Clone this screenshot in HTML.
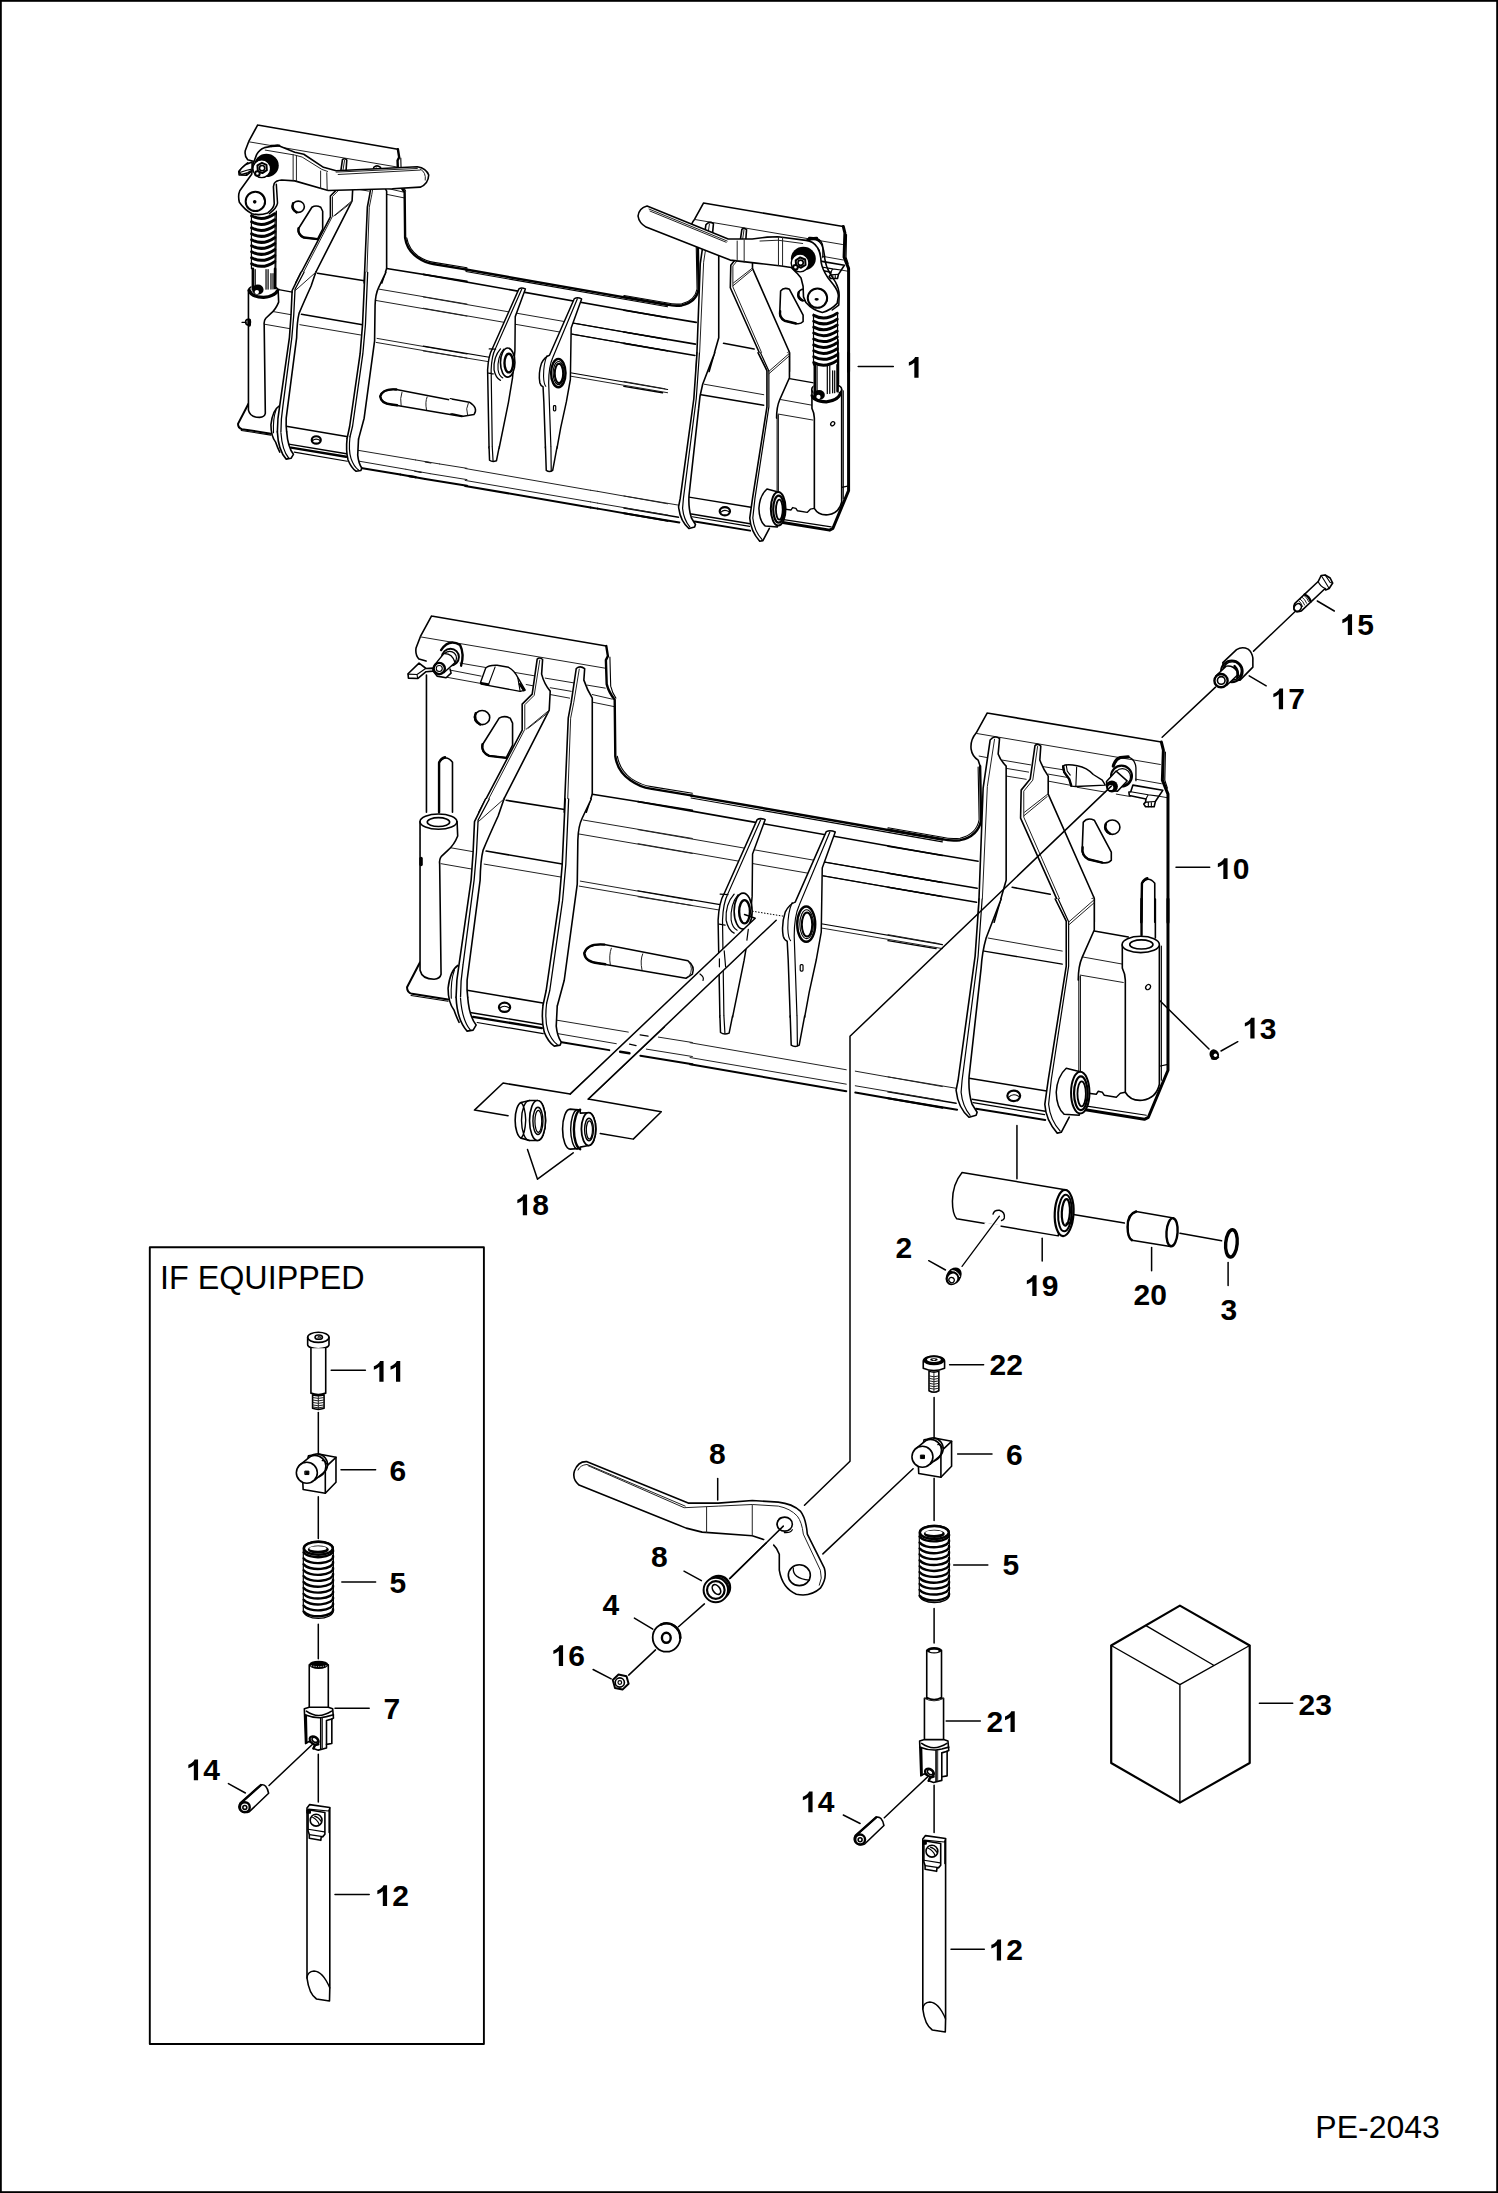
<!DOCTYPE html>
<html><head><meta charset="utf-8">
<style>
html,body{margin:0;padding:0;background:#fff;}
svg{display:block;}
.k,.t,.w,.b,.h{vector-effect:non-scaling-stroke;stroke:#000;stroke-linejoin:round;stroke-linecap:round;}
.k{fill:none;stroke-width:1.6;}
.h{fill:none;stroke-width:2.4;}
.t{fill:none;stroke-width:1;stroke:#222;}
.w{fill:#fff;stroke-width:1.6;}
.b{fill:#000;stroke-width:1;}
.f{fill:#fff;stroke:none;}
text{font-family:"Liberation Sans",sans-serif;fill:#000;}
.n{font-weight:bold;font-size:30px;}
</style></head><body>
<svg width="1498" height="2193" viewBox="0 0 1498 2193">
<rect x="0" y="0" width="1498" height="2193" fill="#fff"/>
<rect x="0.9" y="0.9" width="1496.2" height="2191.2" fill="none" stroke="#000" stroke-width="1.8"/>
<!--LABELS-->
<defs><path id="g1" d="M11.81,0H7.69V-15.51Q5.44,-13.4 2.37,-12.39V-16.13Q3.98,-16.66 5.87,-18.13Q7.76,-19.6 8.47,-21.56H11.81Z"/></defs>
<g id="labels" class="n">
<use href="#g1" transform="translate(906.40,377.7) scale(1.03,0.965)"/>
<use href="#g1" transform="translate(1339.90,635.1) scale(1.03,0.965)"/>
<text x="1357.18" y="635.1">5</text>
<use href="#g1" transform="translate(1270.90,709.2) scale(1.03,0.965)"/>
<text x="1288.18" y="709.2">7</text>
<use href="#g1" transform="translate(1215.40,879.1) scale(1.03,0.965)"/>
<text x="1232.68" y="879.1">0</text>
<use href="#g1" transform="translate(1242.40,1038.5) scale(1.03,0.965)"/>
<text x="1259.68" y="1038.5">3</text>
<use href="#g1" transform="translate(514.90,1215.2) scale(1.03,0.965)"/>
<text x="532.18" y="1215.2">8</text>
<text x="895.50" y="1257.9">2</text>
<use href="#g1" transform="translate(1024.40,1296.1) scale(1.03,0.965)"/>
<text x="1041.68" y="1296.1">9</text>
<text x="1133.50" y="1305.0">2</text>
<text x="1150.18" y="1305.0">0</text>
<text x="1220.50" y="1319.6">3</text>
<use href="#g1" transform="translate(371.40,1381.7) scale(1.03,0.965)"/>
<use href="#g1" transform="translate(388.08,1381.7) scale(1.03,0.965)"/>
<text x="389.50" y="1481.1">6</text>
<text x="389.50" y="1592.8">5</text>
<text x="383.50" y="1719.4">7</text>
<use href="#g1" transform="translate(185.90,1780.3) scale(1.03,0.965)"/>
<text x="203.18" y="1780.3">4</text>
<use href="#g1" transform="translate(374.90,1906.1) scale(1.03,0.965)"/>
<text x="392.18" y="1906.1">2</text>
<text x="989.50" y="1375.1">2</text>
<text x="1006.18" y="1375.1">2</text>
<text x="1006.00" y="1464.7">6</text>
<text x="1002.50" y="1574.7">5</text>
<text x="709.00" y="1463.6">8</text>
<text x="651.00" y="1566.7">8</text>
<text x="602.50" y="1615.3">4</text>
<use href="#g1" transform="translate(550.90,1666.0) scale(1.03,0.965)"/>
<text x="568.18" y="1666.0">6</text>
<text x="986.50" y="1732.1">2</text>
<use href="#g1" transform="translate(1002.58,1732.1) scale(1.03,0.965)"/>
<use href="#g1" transform="translate(800.40,1812.3) scale(1.03,0.965)"/>
<text x="817.68" y="1812.3">4</text>
<use href="#g1" transform="translate(988.90,1960.4) scale(1.03,0.965)"/>
<text x="1006.18" y="1960.4">2</text>
<text x="1298.50" y="1714.9">2</text>
<text x="1315.18" y="1714.9">3</text>
</g>
<text x="160" y="1289.1" font-size="32.3">IF EQUIPPED</text>
<rect class="k" x="149.8" y="1247.3" width="334.1" height="796.7" style="stroke-width:1.9"/>
<g id="leaders" class="k" style="stroke-width:1.5">
<path d="M858.2,366.5H893.3"/>
<path d="M1317.3,601 L1334.3,611"/>
<path d="M1249.2,675.8 L1266.2,685.8"/>
<path d="M1176,867.3H1209.7"/>
<path d="M1221,1051 L1237.8,1041.7"/>
<path d="M527.5,1149.5 L537.5,1179.2 L573.2,1152.8"/>
<path d="M928.7,1260.7 L945.5,1270"/>
<path d="M1042.2,1238.3V1261"/>
<path d="M1151.6,1247.6V1270.8"/>
<path d="M1228.1,1262.4V1285.4"/>
<path d="M331.2,1370.3H365.4"/>
<path d="M341,1469.7H375.6"/>
<path d="M341.8,1582.1H375.6"/>
<path d="M335,1708.3H369.2"/>
<path d="M228.4,1783.6 L245.4,1793"/>
<path d="M335,1894.5H369.2"/>
<path d="M949.6,1364.7H983.6"/>
<path d="M957.6,1453.9H992"/>
<path d="M953.7,1565H987.8"/>
<path d="M717.7,1478.6V1500"/>
<path d="M684,1571.2 L701.4,1580.6"/>
<path d="M634.4,1618.1 L652.8,1629.2"/>
<path d="M593.1,1669.5 L611.2,1678.8"/>
<path d="M946.2,1720.9H980.3"/>
<path d="M843.3,1815 L860.1,1823.5"/>
<path d="M951,1949.2H984.3"/>
<path d="M1259.4,1703.3H1292.7"/>
</g>

<text x="1315.3" y="2138" font-size="32">PE-2043</text>
<!--IFEQ1-->
<defs>
<g id="blk6">
<!-- block 6 in zoom coords of region [258,1325] scale 12.183 -->
<path class="w" d="M615,1592 L740,1572 L950,1612 L950,1915 L820,2050 L550,2005 L545,1900 Z"/>
<path class="k" d="M950,1612 L820,1735 L820,2050"/>
<path class="w" d="M500,1712 L640,1600 A128,128 0 0 1 800,1800 L690,1890 Z"/>
<path class="k" d="M640,1600 A128,128 0 0 1 745,1850"/>
<path class="k" d="M785,1650 Q815,1640 832,1690"/>
<circle class="w" cx="595" cy="1800" r="128"/>
<rect class="b" x="575" y="1780" width="45" height="42"/>
</g>
</defs>
<g transform="translate(258,1325) scale(0.08208)">
<!-- part 11 shoulder bolt -->
<path class="w" d="M605,150 A130,62 0 0 1 865,150 L865,240 A130,50 0 0 1 605,240 Z"/>
<path class="k" d="M605,150 A130,62 0 0 0 865,150"/>
<ellipse class="k" cx="740" cy="148" rx="45" ry="26"/>
<ellipse class="t" cx="745" cy="148" rx="18" ry="10"/>
<path class="w" d="M645,283 L645,830 Q735,862 825,830 L825,283"/>
<path class="w" d="M665,850 L665,1015 Q735,1040 805,1015 L805,850 Q735,870 665,850"/>
<path class="t" d="M670,885 Q735,905 800,885 M670,915 Q735,935 800,915 M670,945 Q735,965 800,945 M670,975 Q735,995 800,975 M670,1000 Q735,1020 800,1000 M735,870 V1020"/>
<path class="k" d="M735,1065 V1575" style="stroke-width:1.5"/>
<use href="#blk6"/>
</g>

<!--COLS-->
<defs>
<g id="spring" transform="translate(258,1520) scale(0.08208)">
<path d="M552,345 A183,88 0 0 1 918,345 L918,1110 A183,88 0 0 1 552,1110 Z" fill="#fff" stroke="#000" stroke-width="1.2" vector-effect="non-scaling-stroke"/>
<ellipse class="h" cx="735" cy="345" rx="176" ry="80"/>
<ellipse cx="735" cy="362" rx="128" ry="50" fill="#000"/>
<ellipse cx="730" cy="347" rx="105" ry="28" fill="#fff"/>
<path class="h" d="M556,395 A183,80 0 0 0 914,365"/><path class="h" d="M556,467 A183,80 0 0 0 914,437"/><path class="h" d="M556,539 A183,80 0 0 0 914,509"/><path class="h" d="M556,611 A183,80 0 0 0 914,581"/><path class="h" d="M556,683 A183,80 0 0 0 914,653"/><path class="h" d="M556,755 A183,80 0 0 0 914,725"/><path class="h" d="M556,827 A183,80 0 0 0 914,797"/><path class="h" d="M556,899 A183,80 0 0 0 914,869"/><path class="h" d="M556,971 A183,80 0 0 0 914,941"/><path class="h" d="M556,1043 A183,80 0 0 0 914,1013"/><path class="h" d="M556,1115 A183,80 0 0 0 914,1085"/>
</g>
<g id="blk7" transform="translate(228,1650) scale(0.08208)">
<path class="w" d="M930,715 L990,698 L1222,698 L1275,715 L1285,830 L1265,840 L1265,1140 L1200,1150 L1200,1195 L1100,1220 L1040,1200 L1055,1150 L985,1115 L945,1140 Z"/>
<path class="k" d="M935,790 Q1040,830 1130,825 L1200,812 L1285,790 M1130,825 V1205 M1200,860 V1150 M1200,860 L1265,840"/>
<path class="h" d="M948,800 L955,1125"/>
<path class="t" d="M1150,830 V1200"/>
<path class="k" d="M955,745 Q1100,850 1262,745"/>
<ellipse class="w" cx="1050" cy="1100" rx="60" ry="42" transform="rotate(35 1050 1100)" style="stroke-width:2.2"/>
<ellipse class="k" cx="1058" cy="1095" rx="38" ry="26" transform="rotate(35 1058 1095)"/>
<path class="h" d="M1040,1200 L1062,1160 L1100,1150"/>
<!-- line to pin and pin 14 -->
<path class="k" d="M500,1650 L1040,1140" style="stroke-width:1.5"/>
<path class="w" d="M155,1865 L400,1645 Q470,1625 495,1745 L260,1970 Q180,2000 140,1940 Q120,1890 155,1865 Z"/>
<path class="h" d="M150,1868 L400,1645"/>
<circle class="h" cx="205" cy="1915" r="60"/>
<circle class="k" cx="205" cy="1918" r="24"/>
</g>
<g id="rod12">
<path class="w" d="M307,1808 L309.7,1804.6 L329.8,1807.5 L329.8,1988 L329.5,2001 L316.5,1999 Q309,1994 307,1978 Z"/>
<path class="k" d="M307,1978 Q307.5,1971.5 314,1971 Q323,1971.5 329.8,1988" style="stroke-width:1.3"/>
<g transform="translate(258,1780) scale(0.08208)">
<path class="k" d="M615,355 L860,378 L875,340 M865,378 V640" style="stroke-width:1.2"/>
<path class="w" d="M610,362 L815,395 L815,660 L790,690 L770,695 L765,735 L625,710 L625,665 L610,620 Z"/>
<path class="k" d="M625,665 L790,690 M612,600 L810,632" style="stroke-width:1.1"/>
<circle class="k" cx="708" cy="490" r="72"/>
<path class="k" d="M690,440 Q740,455 770,505 M665,455 Q720,480 745,540" style="stroke-width:1.1"/>
<rect class="b" x="600" y="365" width="40" height="40"/>
</g>
</g>
</defs>
<g class="k" style="stroke-width:1.5">
<path d="M318.3,1496.7V1538.5 M318.3,1624.2V1658.7 M318.3,1754.2V1802"/>
<path d="M934.1,1397.4V1437.6 M934.1,1478.2V1520.6 M934.1,1608.4V1643 M934.1,1785.3V1832.6"/>
</g>
<use href="#spring"/>
<g transform="translate(228,1650) scale(0.08208)">
<path class="w" d="M990,180 L990,740 Q1105,800 1222,740 L1222,180 Z"/>
<ellipse cx="1105" cy="180" rx="117" ry="50" fill="#000"/>
<path d="M1010,190 Q1105,215 1200,190" fill="none" stroke="#fff" stroke-width="0.8" vector-effect="non-scaling-stroke" stroke-dasharray="1.2 1.2"/>
</g>
<use href="#blk7"/>
<use href="#rod12"/>
<use href="#spring" transform="translate(616,-15.8)"/>
<g transform="translate(873.6,1309) scale(0.08208)"><use href="#blk6"/></g>
<g transform="translate(874,1335) scale(0.08208)">
<path class="w" d="M600,320 A130,65 0 0 1 860,320 L860,405 Q730,460 600,405 Z"/>
<ellipse cx="730" cy="310" rx="128" ry="60" fill="#000"/>
<ellipse cx="730" cy="300" rx="85" ry="30" fill="#fff"/>
<ellipse cx="730" cy="300" rx="45" ry="18" fill="#000"/>
<ellipse cx="730" cy="300" rx="20" ry="8" fill="#fff"/>
<path class="w" d="M670,440 L670,680 Q730,715 790,680 L790,440 Q730,465 670,440"/>
<path class="t" d="M675,500 Q730,520 785,500 M675,530 Q730,550 785,530 M675,560 Q730,580 785,560 M675,590 Q730,610 785,590 M675,620 Q730,640 785,620 M675,650 Q730,670 785,650 M730,470 V700"/>
</g>
<g transform="translate(844,1640) scale(0.08208)">
<path class="w" d="M980,710 L980,1250 Q1098,1310 1213,1250 L1213,710 Z"/>
<path class="w" d="M1008,125 L1008,700 Q1098,752 1188,700 L1188,125 Z"/>
<path class="t" d="M980,712 Q1098,772 1213,712"/>
<ellipse cx="1098" cy="125" rx="93" ry="40" fill="#000"/>
<ellipse cx="1098" cy="135" rx="55" ry="15" fill="#fff"/>
</g>
<use href="#blk7" transform="translate(615.3,32.3)"/>
<use href="#rod12" transform="translate(615.8,31)"/>
<!--LEVER8-->
<g class="k" style="stroke-width:1.5">
<path d="M913.1,1468.8 L822.9,1553.9"/>
<path d="M783.3,1526.1 L729.6,1578.6 M704.4,1603.9 L678.5,1626.7 M655.5,1649.9 L628.7,1675.1"/>
</g>
<g transform="translate(560,1430) scale(0.20027)">
<path class="w" d="M135,158 L640,365 L790,365 L960,352 L1090,360 Q1160,368 1200,405 Q1228,440 1235,520 L1320,690 Q1335,740 1300,790 Q1250,835 1180,820 Q1110,790 1095,700 L1095,620 Q1085,590 1065,572 L1020,548 L960,528 L710,510 L630,490 L95,275 Q60,245 72,205 Q90,155 135,158 Z"/>
<path class="t" d="M140,178 L620,388 L790,380 L960,372 L1090,380 Q1150,392 1185,430 Q1208,460 1215,520 L1300,700 Q1312,740 1295,775"/>
<path class="t" d="M90,200 Q100,175 135,172 L625,380"/>
<path class="t" d="M732,385 V512 M960,375 V528"/>
<path d="M1020,548 L1065,572" stroke="#fff" stroke-width="3" vector-effect="non-scaling-stroke"/>
<ellipse class="w" cx="1122" cy="470" rx="38" ry="35"/>
<path class="k" d="M1100,438 Q1075,460 1090,492 M1120,512 Q1150,515 1160,498" style="stroke-width:1.2"/>
<ellipse class="w" cx="1195" cy="725" rx="55" ry="52"/>
<path class="k" d="M1165,690 Q1160,740 1245,750" style="stroke-width:1.2"/>
<path class="k" d="M1115,480 L850,740" style="stroke-width:1.5"/>
</g>
<!-- bushing 8 -->
<circle class="w" cx="718.5" cy="1587.5" r="11.5" style="stroke-width:2.4"/>
<circle class="w" cx="717.2" cy="1588.8" r="11.5" style="stroke-width:1.2"/>
<circle class="w" cx="715.8" cy="1590" r="12.2" style="stroke-width:2"/>
<circle class="k" cx="715.8" cy="1590" r="8.8" style="stroke-width:2.2"/>
<ellipse class="k" cx="716.5" cy="1589.5" rx="3.5" ry="5.5" transform="rotate(-35 716.5 1589.5)" style="stroke-width:1.6"/>
<!-- washer 4 -->
<ellipse class="w" cx="666.5" cy="1637.5" rx="13.8" ry="14.2" style="stroke-width:1.8"/>
<path class="k" d="M661,1624.6 A13.8,14.2 0 0 1 680.3,1638" style="stroke-width:2.6"/>
<ellipse class="k" cx="666.3" cy="1637.8" rx="4.4" ry="5" style="stroke-width:2.4"/>
<!-- nut 16 -->
<path class="w" d="M612.8,1680 L618.5,1674.5 L626.5,1676.2 L628.6,1683.8 L622.5,1689.6 L615,1688 Z" style="stroke-width:2"/>
<circle class="k" cx="619.8" cy="1682.5" r="4.6" style="stroke-width:1.6"/>
<circle class="k" cx="619.8" cy="1682.5" r="1.8" style="stroke-width:1.2"/>
<!-- box 23 -->
<path class="w" d="M1179.9,1605.6 L1249.7,1645.5 L1249.7,1763 L1179.9,1802.6 L1111.2,1763 L1111.2,1645.5 Z" style="stroke-width:2.2"/>
<path class="k" d="M1111.2,1645.5 L1179.9,1684.6 L1249.7,1645.5 M1179.9,1684.6 V1802.6 M1146.4,1625.9 L1214.1,1665.5" style="stroke-width:1.4"/>

<!--P19-->
<g transform="translate(930,1150) scale(0.21362)">
<path class="k" d="M407,-115 V135 M650,298 L910,342 M1170,390 L1365,425" style="stroke-width:1.5"/>
<path class="w" d="M150,105 L640,187 L600,402 L125,322 Q105,300 105,240 Q105,160 150,105 Z" style="stroke-width:1.5"/>
<ellipse class="w" cx="628" cy="295" rx="44" ry="108" style="stroke-width:2.2" transform="rotate(3 628 295)"/>
<ellipse class="k" cx="632" cy="295" rx="32" ry="86" style="stroke-width:2" transform="rotate(3 632 295)"/>
<ellipse class="k" cx="636" cy="292" rx="19" ry="62" style="stroke-width:2.2" transform="rotate(3 636 292)"/>
<path class="h" d="M640,345 L662,340 L664,315"/>
<path d="M255,346 L330,358" stroke="#fff" stroke-width="3" vector-effect="non-scaling-stroke"/>
<path class="k" d="M295,300 Q300,280 325,282 Q352,290 348,318 Q345,328 335,330" style="stroke-width:1.4"/>
<path class="k" d="M325,310 L150,545" style="stroke-width:1.3"/>
<!-- part 20 -->
<path class="w" d="M965,288 L1140,318 L1125,452 L945,422 Q925,410 925,360 Q925,300 965,288 Z" style="stroke-width:1.5"/>
<path class="h" d="M965,288 Q925,300 925,360 Q925,410 945,422"/>
<ellipse class="w" cx="1133" cy="385" rx="26" ry="66" style="stroke-width:2.4" transform="rotate(4 1133 385)"/>
<!-- part 3 -->
<ellipse class="w" cx="1411" cy="437" rx="27" ry="64" style="stroke-width:3.4" transform="rotate(5 1411 437)"/>
</g>
<!-- part 2 grease fitting -->
<g transform="translate(953.6,1276.3) rotate(35)">
<ellipse cx="0" cy="0" rx="7.2" ry="9.6" fill="#000"/>
<ellipse cx="0.5" cy="2.5" rx="4.6" ry="5.2" fill="#fff"/>
<ellipse cx="0.5" cy="4.2" rx="2.8" ry="2.6" fill="none" stroke="#000" stroke-width="1.3"/>
<path d="M-5,-3.5 Q0,-7 5.5,-3" fill="none" stroke="#fff" stroke-width="0.9"/>
</g>

<!--P15-->
<g transform="translate(1200,565) scale(0.10013)">
<path class="k" d="M945,470 L535,860 M155,1220 L-378,1720" style="stroke-width:1.5"/>
<!-- bolt 15 -->
<path class="w" d="M945,385 L1180,165 L1210,105 L1250,100 L1300,130 L1325,180 L1290,235 L1255,250 L1250,235 L1010,460 Q960,480 940,440 Q930,410 945,385 Z"/>
<ellipse class="k" cx="975" cy="425" rx="34" ry="42" transform="rotate(40 975 425)"/>
<path class="k" d="M1180,165 Q1200,215 1250,235 M1210,105 Q1240,150 1290,235 M1250,100 L1300,175 L1325,180" style="stroke-width:1.1"/>
<path class="h" d="M1045,295 Q1090,310 1105,365"/>
<path class="t" d="M1000,340 Q1030,360 1045,400 M1020,322 Q1050,342 1065,382 M1040,305 Q1070,325 1085,365 M985,355 Q1010,375 1025,415"/>
<!-- bushing 17 -->
<path class="w" d="M228,975 L365,845 Q420,810 480,840 Q520,870 528,930 L528,1020 L400,1150 L250,1150 Z"/>
<circle class="w" cx="318" cy="1062" r="108" style="stroke-width:2"/>
<circle class="k" cx="322" cy="1058" r="92" style="stroke-width:1.6"/>
<path class="w" d="M158,1108 L262,1010 Q330,1000 368,1060 L372,1100 L268,1202 Z" style="stroke-width:1.4"/>
<path class="h" d="M345,1010 Q395,1060 372,1125"/>
<circle class="w" cx="210" cy="1155" r="66" style="stroke-width:2.4"/>
<circle class="k" cx="212" cy="1153" r="38" style="stroke-width:1.6"/>
</g>

<!--P18-->
<g transform="translate(440,1040) scale(0.20027)">
<path class="k" d="M340,378 L172,350 L315,215 L650,270 L1010,-65 M1120,-65 L740,295 L1105,358 L965,495 L800,467" style="stroke-width:1.5"/>
<!-- left bushing -->
<path class="w" d="M405,312 L447,302 L487,302 A40,100 0 0 1 487,502 L447,502 L405,490 A35,90 0 0 1 405,312 Z"/>
<path class="k" d="M447,302 A40,100 0 0 0 447,502 M405,312 Q425,330 428,400 Q425,470 405,490" style="stroke-width:1.4"/>
<ellipse class="w" cx="487" cy="402" rx="40" ry="100"/>
<ellipse class="k" cx="489" cy="404" rx="25" ry="68" style="stroke-width:1.4"/>
<ellipse class="k" cx="491" cy="406" rx="17" ry="55" style="stroke-width:1.2"/>
<!-- right bushing -->
<path class="w" d="M650,345 L700,350 L700,365 L742,363 A36,82 0 0 1 742,527 L700,535 L700,542 L650,545 A38,100 0 0 1 650,345 Z"/>
<path class="h" d="M700,348 A38,100 0 0 0 700,545"/>
<path class="k" d="M685,347 A38,100 0 0 0 685,545" style="stroke-width:1.4"/>
<ellipse class="w" cx="742" cy="445" rx="36" ry="82" style="stroke-width:1.8"/>
<ellipse class="k" cx="744" cy="447" rx="22" ry="56" style="stroke-width:1.4"/>
<ellipse class="k" cx="746" cy="449" rx="15" ry="45" style="stroke-width:1.1"/>
</g>
<!-- 13 -->
<path class="k" d="M1148.5,989.5 L1209,1049" style="stroke-width:1.5"/>
<ellipse cx="1214.3" cy="1054.6" rx="4.6" ry="5.4" fill="#000" transform="rotate(-30 1214.3 1054.6)"/>
<circle cx="1215.4" cy="1055.3" r="1.7" fill="#fff"/>
<path d="M1211,1058.5 Q1215,1061 1219,1057" stroke="#000" stroke-width="1.2" fill="none"/>

<!--A10-->
<g id="a10">
<!--T1-->
<g transform="translate(390,590) scale(0.20027)">
<!-- flange -->
<path class="k" d="M207,130 L1080,280 M207,130 L152,232 L130,290 Q125,325 145,345 L180,355"/>
<path class="t" d="M152,234 L1072,390 M350,365 L730,430 M775,440 L925,465 M985,475 L1075,490"/>
<path class="t" d="M290,398 L455,430 M285,436 L450,466 M680,472 L712,478 M800,488 L905,506 M800,522 L897,540 M1010,522 L1110,545 M1010,560 L1118,582"/>
<!-- U cutout edge -->
<path class="h" d="M1080,280 L1088,330 L1078,350 L1082,470 Q1092,510 1122,548 L1125,830 Q1135,905 1200,950 Q1250,985 1300,992 L1510,1027"/>
<path class="k" d="M1098,335 L1102,480 Q1110,515 1128,540 M1135,830 Q1148,900 1205,942 Q1255,975 1305,982 L1510,1015" style="stroke-width:1.1"/>
<!-- tab -->
<path class="w" d="M145,365 L90,418 L92,440 L138,442 L180,408 L215,405 L215,390 L180,392 Z"/>
<path class="k" d="M90,420 L135,422 L178,392 M135,422 L138,442" style="stroke-width:1.1"/>
<!-- pin -->
<path class="h" d="M255,300 Q295,240 350,275 Q372,320 355,378"/>
<path class="w" d="M215,405 L235,430 L280,438 L305,415 L300,395"/>
<circle class="w" cx="302" cy="335" r="42" style="stroke-width:2"/>
<circle class="k" cx="298" cy="340" r="34" style="stroke-width:1.2"/>
<path class="w" d="M222,375 L268,318 Q310,315 325,362 L270,412 Z" style="stroke-width:1.4"/>
<circle class="w" cx="246" cy="392" r="28" style="stroke-width:2.4"/>
<circle class="k" cx="246" cy="392" r="15" style="stroke-width:1.1"/>
<!-- flange slot -->
<path class="w" d="M452,462 L478,390 Q492,374 535,376 L592,386 Q622,402 640,440 L675,500 L650,506 L455,470 Z" style="stroke-width:1.4"/>
<path class="k" d="M525,384 L492,472 M638,438 L650,506" style="stroke-width:1.1"/>
<path class="h" d="M455,465 L490,472 M648,470 L668,500"/>
<!-- side plate -->
<path class="k" d="M182,425 V1110"/>
<ellipse class="k" cx="460" cy="637" rx="38" ry="35"/>
<path class="h" d="M428,615 Q415,650 450,672"/>
<path class="k" d="M545,640 Q570,625 600,640 L612,665 L612,775 L580,838 L495,828 Q455,810 460,775 Z"/>
<path class="h" d="M462,770 Q455,810 495,828 L580,838"/>
<path class="k" d="M245,1110 L245,860 Q280,818 312,860 L312,1110"/>
<path class="h" d="M245,1110 L245,862 Q255,840 275,835"/>
<!-- gusset -->
<path class="w" d="M444,1110 L660,700 L660,570 L710,520 L735,345 Q748,333 762,347 L757,420 Q770,470 800,505 L795,600 L535,1110"/>
<path class="t" d="M748,350 L720,526 L673,573 L673,696 L458,1110 M790,612 L690,690 M680,695 L795,600"/>
<!-- brace 2 -->
<path class="w" d="M870,1110 L890,640 L905,560 L930,392 Q950,375 972,393 L968,450 Q985,500 1010,540 L1010,1020 L980,1110"/>
<path class="t" d="M945,395 L918,560 L902,640 L885,1110"/>
<path class="k" d="M1010,1020 L1510,1100 M580,1050 L872,1096"/>
</g>

<!--T3-->
<g transform="translate(890,700) scale(0.20027)">
<path class="k" d="M485,65 L1355,210 M485,65 L430,165 Q400,200 405,245 Q410,280 440,300 L450,330"/>
<path class="t" d="M432,167 L1350,322 M445,280 L482,287 M560,300 L702,324 M572,340 L692,360 M582,380 L680,396 M760,332 L862,348 M790,370 L882,386 M795,406 L897,425 M935,436 L1075,460 M1130,470 L1200,482 M1330,478 L1385,488 M1225,395 L1355,418"/>
<path class="h" d="M1355,210 L1365,250 L1360,400 L1388,470 V1110" style="stroke-width:3"/>
<path class="k" d="M1375,260 L1372,400 L1385,440" style="stroke-width:1.2"/>
<!-- U cutout right -->
<path class="h" d="M450,330 L455,600 Q440,680 350,700 Q300,705 260,695 L-10,648"/>
<path class="k" d="M440,335 L445,598 Q432,670 350,690 Q300,695 262,685 L-10,638" style="stroke-width:1.1"/>
<!-- brace 3 -->
<path class="w" d="M440,1110 L465,440 L500,200 L508,192 Q525,178 547,192 L540,270 Q550,300 580,330 L580,900 L520,1110"/>
<path class="t" d="M522,196 L486,432 L456,1110"/>
<path class="k" d="M610,935 L800,970"/>
<path class="k" d="M-10,730 L440,805 M-10,865 L435,940 M-10,935 L432,1010"/>
<!-- brace 4 kinked -->
<path class="w" d="M885,1110 L652,590 L655,450 L700,395 L724,228 Q738,215 753,230 L748,300 Q765,345 790,380 L790,470 L1020,990 L1020,1110"/>
<path class="t" d="M737,232 L713,400 L668,455 L668,585 L898,1110 M785,482 L670,577 M790,468 L672,560 M1015,1000 L895,1095 M1018,985 L885,1085"/>
<!-- slot in flange right -->
<path class="w" d="M862,330 Q880,318 935,328 Q985,338 1015,372 L1060,400 L1075,425 L928,432 L905,430 L895,395 L868,360 Z" style="stroke-width:1.4"/>
<path class="h" d="M865,332 L870,360 L895,395 L905,428"/>
<path class="k" d="M932,335 L928,432 M880,325 L885,355 L900,375" style="stroke-width:1.1"/>
<!-- tab right -->
<path class="w" d="M1213,425 L1362,451 L1325,507 L1319,533 L1276,533 L1267,520 L1276,510 L1278,494 L1195,477 L1193,460 L1202,458 Z"/>
<path class="k" d="M1202,458 L1289,473 L1278,494 M1276,510 L1325,507 M1289,473 L1340,480 M1290,512 V533 M1305,511 V533" style="stroke-width:1.1"/>
<!-- pin right -->
<path class="k" d="M1189,284 Q1224,295 1228,338 L1228,403" style="stroke-width:1.3"/>
<path class="h" d="M1115,330 Q1125,295 1150,287 L1189,284" style="stroke-width:3.2"/>
<circle class="w" cx="1156" cy="380" r="52" style="stroke-width:2.2"/>
<circle class="k" cx="1160" cy="384" r="41" style="stroke-width:1.2"/>
<path class="w" d="M1129,355 L1081,407 Q1080,450 1136,456 L1184,404 Z" style="stroke-width:1.5"/>
<circle cx="1108" cy="432" r="30" fill="#000"/>
<circle cx="1102" cy="437" r="13" fill="#fff"/>
<!-- side plate right -->
<ellipse class="k" cx="1110" cy="635" rx="38" ry="36"/>
<path class="h" d="M1078,618 Q1068,650 1100,668"/>
<path class="k" d="M965,610 Q985,585 1020,600 L1105,760 L1105,800 Q1090,818 1060,812 L990,795 Q955,775 960,740 Z"/>
<path class="h" d="M962,735 Q955,775 990,795 L1060,812"/>
<path class="k" d="M1255,1110 L1258,915 Q1290,875 1322,915 L1322,1110"/>
<path class="h" d="M1255,1110 L1258,915 Q1268,895 1285,890"/>
</g>

<!--T4-->
<g transform="translate(390,800) scale(0.20027)">
<!-- beam lines -->
<path class="k" d="M480,255 L860,320 M385,950 L770,1015"/>
<path class="t" d="M470,320 L855,385 M965,100 L1510,192 M945,170 L1510,267 M950,405 L1510,502 M945,430 L1510,527 M300,238 L415,258 M255,318 L410,345"/>
<!-- base plate corner -->
<path class="h" d="M150,810 L85,935 Q85,962 110,968 L290,996" style="stroke-width:2"/>
<path class="k" d="M105,976 L290,1005" style="stroke-width:1.1"/>
<!-- tube left -->
<path class="w" d="M150,108 L150,850 Q160,895 220,895 Q250,893 255,870 L248,320 Q245,295 258,280 L290,250 Q320,225 338,180 L335,108 Z"/>
<ellipse class="w" cx="242" cy="108" rx="92" ry="38"/>
<ellipse class="k" cx="242" cy="110" rx="56" ry="22"/>
<path class="h" d="M155,292 V322" style="stroke-width:3.5"/>
<!-- boss bottom left -->
<path class="k" d="M340,825 Q300,850 290,940 Q290,1010 320,1050 Q330,1080 345,1110"/>
<path class="k" d="M322,848 Q302,900 306,990" style="stroke-width:1.1"/>
<!-- left strap -->
<path class="f" d="M422,108 L477,-5 L570,-8 L540,80 Q490,190 465,250 Q452,300 450,400 L385,900 Q383,950 388,985 L330,985 Q330,900 345,820 L405,400 L415,260 Z"/>
<path class="k" d="M477,-5 L422,108 L415,260 L405,400 L345,820 Q330,900 330,985 M570,-8 L540,80 Q490,190 465,250 Q452,300 450,400 L385,900 Q383,950 388,985"/>
<path class="k" d="M496,-5 L440,100 L432,260 L420,400 L365,820 Q352,900 352,990" style="stroke-width:1.3"/>
<path class="t" d="M439,110 L569,-5"/>
<!-- strap 2 -->
<path class="f" d="M875,-5 L1005,-5 L960,90 Q940,130 938,200 L935,420 L870,900 L835,1030 L764,1025 L780,950 L845,500 L860,320 Z"/>
<path class="k" d="M875,-5 L860,320 L845,500 L780,950 L764,1025 M1005,-5 L960,90 Q940,130 938,200 L935,420 L870,900 L835,1030"/>
<path class="k" d="M892,-5 L878,320 L862,500 L798,950 L782,1015" style="stroke-width:1.3"/>
<!-- horizontal bar -->
<path class="w" d="M1070,722 L1488,803 Q1525,830 1510,870 L1478,890 L1040,815 Q975,810 970,765 Q985,715 1070,722 Z" style="stroke-width:1.5"/>
<path class="t" d="M1493,810 Q1518,840 1493,882"/>
<path class="h" d="M1070,722 Q985,715 970,765 Q975,810 1040,815 L1075,820"/>
<path class="t" d="M1105,740 Q1092,775 1100,822 M1262,768 Q1248,800 1258,847"/>
<!-- small hole -->
<ellipse class="k" cx="572" cy="1035" rx="28" ry="23" style="stroke-width:2.2"/>
<path class="k" d="M548,1040 Q570,1020 598,1040" style="stroke-width:1.1"/>
</g>

<!--T5-->
<g transform="translate(640,800) scale(0.20027)">
<path class="h" d="M255,-22 L1510,197"/>
<path class="k" d="M255,-10 L1510,209" style="stroke-width:1.1"/>
<path class="k" d="M-10,8 L1510,277"/>
<path class="t" d="M-10,148 L1510,412 M-10,218 L1510,482"/>
<path class="k" d="M915,308.7 L1510,412 M915,378.7 L1510,482" style="stroke-width:1.3"/>
<path class="k" d="M-10,453 L400,522 M905,618 L1510,722" style="stroke-width:1.2"/>
<path class="t" d="M-10,483 L400,550 M910,640 L1510,742"/>
<!-- horizontal bar end -->
<!-- plate 1 -->
<path class="w" d="M399,1085 L390,600 Q395,510 420,468 L585,98 Q600,88 625,98 L562,270 L560,480 L545,650 L520,800 L462,1085" style="stroke-width:1.5"/>
<path class="k" d="M602,100 L438,470 Q415,515 412,600 L419,1085 M400,470 L440,472 M395,620 L425,625" style="stroke-width:1.2"/>
<path class="k" d="M470,470 Q425,520 430,600 Q440,650 470,665" style="stroke-width:1.3"/>
<path class="k" d="M490,472 Q450,520 455,600 Q462,640 485,650" style="stroke-width:1.1"/>
<ellipse class="w" cx="515" cy="555" rx="45" ry="90" style="stroke-width:1.6"/>
<ellipse class="w" cx="522" cy="558" rx="27" ry="58" style="stroke-width:2.4"/>
<!-- plate 2 -->
<path class="w" d="M750,1085 L740,799 L735,705 Q720,700 715,680 Q705,620 725,560 Q745,520 775,510 L930,158 Q950,148 975,160 L910,340 L905,660 L880,799 L845,959 L822,1085" style="stroke-width:1.5"/>
<path class="k" d="M948,160 L795,525 Q770,580 770,680 L784,1085" style="stroke-width:1.2"/>
<path class="k" d="M760,512 Q738,560 738,640 Q740,690 752,702" style="stroke-width:1.1"/>
<ellipse class="w" cx="830" cy="620" rx="45" ry="88" style="stroke-width:2.4"/>
<ellipse class="k" cx="832" cy="620" rx="34" ry="72" style="stroke-width:1.1"/>
<ellipse class="k" cx="834" cy="622" rx="26" ry="60" style="stroke-width:2"/>
<rect class="k" x="800" y="822" width="14" height="32" rx="5" style="stroke-width:1.2"/>
</g>

<!--T6-->
<g transform="translate(890,900) scale(0.20027)">
<!-- beam lines -->
<path class="t" d="M-10,173 L245,218 M490,190 L860,255 M965,285 L1160,320 M950,375 L1165,412 M-10,883 L330,940"/>
<path class="k" d="M-10,203 L230,243 M470,255 L860,320 M1020,155 L1190,185 M-10,958 L330,1015 M395,890 L790,955 M410,995 L775,1055" style="stroke-width:1.4"/>
<path class="k" d="M415,1012 L772,1072" style="stroke-width:1.2"/>
<path class="h" d="M-10,990 L335,1047 M430,1042 L775,1098" style="stroke-width:2"/>
<path class="k" d="M940,400 V860 M950,380 V855" style="stroke-width:1.3"/>
<!-- right edge & base -->
<path class="h" d="M1388,-5 V850 L1290,1085 L1270,1095 L960,1045" style="stroke-width:3"/>
<path class="k" d="M1345,830 L1382,822 M1280,1075 L975,1028" style="stroke-width:1.1"/>
<!-- slot continuing -->
<path class="k" d="M1325,-5 V190"/>
<path class="h" d="M1256,-5 V175"/>
<!-- tube right -->
<path class="w" d="M1160,225 L1160,340 Q1175,370 1175,400 L1175,960 Q1200,1005 1260,1000 Q1330,990 1345,920 L1345,225 Z"/>
<path class="k" d="M1355,230 V900" style="stroke-width:1.1"/>
<ellipse class="w" cx="1252" cy="222" rx="93" ry="41"/>
<ellipse class="k" cx="1255" cy="222" rx="58" ry="23"/>
<path class="k" d="M990,965 L1030,970 L1040,955 L1060,960 L1070,975 L1130,985 L1150,965 L1175,960" style="stroke-width:1.4"/>
<!-- strap 3 -->
<path class="f" d="M445,-5 L555,-5 L480,190 Q460,260 455,340 L395,880 Q390,960 410,1020 L435,1060 L430,1075 L395,1085 Q340,1040 330,950 L340,900 L425,280 Z"/>
<path class="k" d="M445,-5 L425,280 L340,900 L330,950 Q340,1040 395,1085 L430,1075 L435,1060 L410,1020 Q390,960 395,880 L455,340 Q460,260 480,190 L555,-5"/>
<path class="k" d="M460,-5 L440,280 L360,900 L355,960 Q362,1030 400,1075" style="stroke-width:1.2"/>
<!-- brace 4 lower -->
<path class="f" d="M825,-5 L1020,-5 L1020,150 L960,285 Q940,330 940,400 L940,860 L900,860 L895,1084 L855,1160 L835,1164 Q778,1100 773,1020 L790,900 L880,330 L880,105 Z"/>
<path class="k" d="M825,-5 L880,105 L880,330 L790,900 L773,1020 Q778,1100 835,1164 L855,1160 L895,1084 M1020,-5 L1020,150 L960,285 Q940,330 940,400"/>
<path class="k" d="M840,-5 L892,108 L892,330 L805,900 L792,1020 Q800,1100 850,1154" style="stroke-width:1.2"/>
<path class="t" d="M890,112 L1018,0 M892,125 L1018,15"/>
<!-- small hole -->
<ellipse class="k" cx="618" cy="978" rx="32" ry="26" style="stroke-width:2.2"/>
<path class="k" d="M592,985 Q615,962 645,982" style="stroke-width:1.1"/>
<!-- bushing bottom right -->
<path class="w" d="M880,840 L950,858 L945,1075 L870,1070 Q832,1040 830,960 Q835,880 880,840 Z" style="stroke-width:1.5"/>
<ellipse class="w" cx="950" cy="962" rx="46" ry="104" style="stroke-width:2"/>
<ellipse class="k" cx="953" cy="965" rx="34" ry="84" style="stroke-width:2.2"/>
<ellipse class="k" cx="957" cy="968" rx="21" ry="62" style="stroke-width:1.8"/>
<!-- hole 13 -->
<ellipse class="k" cx="1289" cy="435" rx="11" ry="14" transform="rotate(40 1289 435)" style="stroke-width:1.3"/>
</g>

<!--T7-->
<g transform="translate(390,960) scale(0.20027)">
<path class="k" d="M400,262 L760,322" style="stroke-width:1.4"/>
<path class="h" d="M850,410 L1095,450 M1250,478 L1510,520" style="stroke-width:2"/>
<path class="h" d="M415,284 L758,340"/>
<path class="k" d="M435,312 L765,368" style="stroke-width:1.2"/>
<path class="t" d="M830,300 L1190,360 M1340,385 L1510,412 M840,368 L1130,418 M1280,445 L1510,482"/>
<path class="k" d="M1250,372 L1285,378 M1185,430 L1225,437" style="stroke-width:1.2"/>
<path class="h" d="M1150,460 L1190,467"/>
<!-- left strap hook -->
<path class="f" d="M330,186 Q335,300 385,355 L415,350 L430,325 Q395,280 388,186 Z"/>
<path class="k" d="M330,186 Q335,300 385,355 L415,350 L430,325 Q395,280 388,186"/>
<path class="k" d="M352,190 Q360,300 400,348" style="stroke-width:1.2"/>
<!-- strap 2 hook -->
<path class="f" d="M764,226 Q755,300 770,360 Q790,410 820,430 L850,425 L855,410 Q835,380 830,330 L835,231 Z"/>
<path class="k" d="M764,226 Q755,300 770,360 Q790,410 820,430 L850,425 L855,410 Q835,380 830,330 L835,231"/>
<path class="k" d="M782,216 Q772,300 788,350 Q805,400 835,422" style="stroke-width:1.2"/>
</g>

<!--T8-->
<g transform="translate(640,960) scale(0.20027)">
<path class="t" d="M250,413 L1030,548 M1075,555 L1510,632 M250,487 L1030,620 M1075,628 L1510,702"/>
<path class="h" d="M250,521 L1030,655 M1075,662 L1510,738" style="stroke-width:2"/>
<!-- plate 1 tip -->
<path class="f" d="M399,280 L402,362 Q420,375 445,365 L462,280 Z"/>
<path class="k" d="M399,280 L402,362 Q420,375 445,365 L462,280" style="stroke-width:1.5"/>
<path class="k" d="M419,280 L424,366" style="stroke-width:1.2"/>
<!-- plate 2 tip -->
<path class="f" d="M750,280 L755,425 Q775,438 795,425 L822,280 Z"/>
<path class="k" d="M750,280 L755,425 Q775,438 795,425 L822,280" style="stroke-width:1.5"/>
<path class="k" d="M784,280 L786,428" style="stroke-width:1.2"/>
</g>

</g>
<!--A10END-->
<!--A1-->
<use href="#a10" transform="translate(-88.6,-370.9) scale(0.8024,0.805)"/>
<g transform="translate(-88.6,-370.9) scale(0.8024,0.805)">
<g transform="translate(640,960) scale(0.20027)"><path class="t" d="M1030,548 L1075,555 M1030,620 L1075,628"/><path class="h" d="M1030,655 L1075,662" style="stroke-width:2"/></g>
<g transform="translate(390,960) scale(0.20027)"><path class="t" d="M1190,360 L1340,385 M1130,418 L1280,445"/><path class="h" d="M1095,450 L1250,478" style="stroke-width:2"/></g>
</g>
<!--A1OVER-->
<g transform="translate(225,130) scale(0.08208)">
<!-- ear tab -->
<path class="w" d="M330,390 L255,420 Q180,480 175,510 Q180,545 215,540 L280,520 L330,490 Z"/>
<path class="k" d="M190,515 L265,490 L315,480" style="stroke-width:1.1"/>
<!-- vertical plate line right of spring -->
<path class="k" d="M625,990 L615,1900 M655,1945 L820,1975" style="stroke-width:1.4"/>
<!-- spring + rod -->
<path class="f" d="M322,1010 L612,1010 L612,1990 L322,1990 Z"/>
<path class="h" d="M325,1045 Q460,1120 605,1020" style="stroke-width:3"/><path class="h" d="M325,1118 Q460,1193 605,1093" style="stroke-width:3"/><path class="h" d="M325,1191 Q460,1266 605,1166" style="stroke-width:3"/><path class="h" d="M325,1264 Q460,1339 605,1239" style="stroke-width:3"/><path class="h" d="M325,1337 Q460,1412 605,1312" style="stroke-width:3"/><path class="h" d="M325,1410 Q460,1485 605,1385" style="stroke-width:3"/><path class="h" d="M325,1483 Q460,1558 605,1458" style="stroke-width:3"/><path class="h" d="M325,1556 Q460,1631 605,1531" style="stroke-width:3"/><path class="h" d="M325,1629 Q460,1704 605,1604" style="stroke-width:3"/>
<path class="k" d="M322,1030 V1690 M610,1010 V1690" style="stroke-width:1.2"/>
<path class="h" d="M340,1690 V1960 M610,1690 V1930" style="stroke-width:2.6"/>
<path class="k" d="M368,1700 V1900 M500,1700 V1990 M525,1700 V1990 M560,1750 V1950 M585,1750 V1950" style="stroke-width:1.2"/>
<!-- tube top with nut -->
<path class="w" d="M285,1950 Q300,2040 470,2050 Q640,2030 655,1940" style="stroke-width:1.6"/>
<ellipse cx="400" cy="1945" rx="70" ry="62" fill="#000"/>
<circle cx="388" cy="1975" r="26" fill="#fff"/>
<path class="h" d="M300,1950 Q330,2030 470,2035 Q600,2025 640,1950"/>
<!-- lever -->
<path class="w" d="M385,300 Q420,235 480,215 L640,185 L850,270 L960,295 L1200,455 L1354,496 L2343,447 Q2452,464 2482,549 Q2477,659 2379,696 L2038,715 L1257,737 L850,620 L690,610 Q625,615 600,650 L590,690 L600,900 Q590,960 520,1010 Q420,1045 330,1020 Q240,975 175,880 Q155,800 180,740 L325,540 L340,420 Z"/>
<path class="k" d="M625,660 L640,890 Q630,950 540,1020" style="stroke-width:1.5"/>
<path class="h" d="M560,195 L660,190"/>
<path class="t" d="M490,245 L850,305 L940,330 L1180,480 L1250,505 M830,300 V612 M870,310 V622 M1165,500 V712 M1240,520 L1245,735 M1354,513 L2343,469 M1379,542 L2379,488 M2379,476 Q2452,513 2440,610"/>
<!-- nut -->
<ellipse cx="505" cy="432" rx="150" ry="142" fill="#000"/>
<circle class="w" cx="448" cy="472" r="108" style="stroke-width:1.4"/>
<path class="w" d="M395,430 L450,400 L505,425 L510,490 L455,525 L400,500 Z" style="stroke-width:2"/>
<circle class="k" cx="452" cy="465" r="32" style="stroke-width:1.6"/>
<circle class="w" cx="395" cy="530" r="28" style="stroke-width:2"/>
<!-- lower pivot -->
<circle class="k" cx="370" cy="870" r="118" style="stroke-width:2"/>
<path class="k" d="M395,752 Q480,790 490,900" style="stroke-width:1.1"/>
<circle cx="362" cy="875" r="22" fill="#000"/>
</g>
<g transform="translate(760,200) scale(0.08208)">
<!-- spring + rod -->
<path class="f" d="M652,1370 L947,1370 L947,2420 L652,2420 Z"/>
<path class="h" d="M655,1405 Q790,1480 940,1380" style="stroke-width:3"/><path class="h" d="M655,1477 Q790,1552 940,1452" style="stroke-width:3"/><path class="h" d="M655,1549 Q790,1624 940,1524" style="stroke-width:3"/><path class="h" d="M655,1621 Q790,1696 940,1596" style="stroke-width:3"/><path class="h" d="M655,1693 Q790,1768 940,1668" style="stroke-width:3"/><path class="h" d="M655,1765 Q790,1840 940,1740" style="stroke-width:3"/><path class="h" d="M655,1837 Q790,1912 940,1812" style="stroke-width:3"/><path class="h" d="M655,1909 Q790,1984 940,1884" style="stroke-width:3"/><path class="h" d="M655,1981 Q790,2056 940,1956" style="stroke-width:3"/>
<path class="k" d="M652,1390 V2010 M945,1370 V2010" style="stroke-width:1.2"/>
<path class="h" d="M668,2010 V2360 M945,2010 V2330" style="stroke-width:2.6"/>
<path class="k" d="M695,2020 V2340 M820,2020 V2400 M850,2020 V2400 M885,2080 V2350 M910,2080 V2350" style="stroke-width:1.2"/>
<!-- tube top w/ nut (right) -->
<path class="w" d="M625,2380 Q640,2460 808,2470 Q970,2450 990,2350" style="stroke-width:1.6"/>
<ellipse cx="720" cy="2375" rx="70" ry="60" fill="#000"/>
<circle cx="712" cy="2400" r="26" fill="#fff"/>
<path class="h" d="M640,2385 Q670,2450 808,2455 Q940,2440 976,2362"/>
<!-- lever right -->
<path class="w" d="M-1376,73 Q-1474,98 -1486,195 Q-1474,281 -1388,330 L-363,732 L-46,769 L259,805 L380,822 L450,890 L500,950 L525,1050 L530,1180 L560,1250 Q640,1345 760,1370 Q860,1345 940,1260 L955,1170 Q950,1100 900,1040 L830,950 Q760,850 745,760 Q740,650 700,580 Q650,500 560,492 L220,447 L88,452 L-95,476 L-388,476 Z"/>
<path class="k" d="M610,465 Q700,460 750,540 Q785,620 790,720 Q800,800 850,890 L920,1000 Q965,1080 965,1160 L960,1280 L880,1340" style="stroke-width:1.5"/>
<path class="h" d="M600,462 Q680,458 720,500"/>
<path class="t" d="M-1352,110 L-400,500 M-1340,135 L-412,515 M-278,500 V745 M-193,490 V758 M225,450 V798 M275,455 V805 M0,500 L220,490 L520,530"/>
<!-- nut -->
<ellipse cx="528" cy="715" rx="152" ry="145" fill="#000"/>
<circle class="w" cx="488" cy="768" r="108" style="stroke-width:1.4"/>
<path class="w" d="M435,735 L490,700 L550,725 L555,790 L500,825 L440,800 Z" style="stroke-width:2"/>
<circle class="k" cx="495" cy="765" r="32" style="stroke-width:1.6"/>
<circle class="w" cx="432" cy="820" r="28" style="stroke-width:2"/>
<!-- lower pivot -->
<circle class="k" cx="700" cy="1195" r="118" style="stroke-width:2"/>
<path class="k" d="M735,1080 Q815,1120 820,1230" style="stroke-width:1.1"/>
<ellipse cx="690" cy="1210" rx="26" ry="16" fill="#000"/>
</g>
<g transform="translate(220,270) scale(0.20027)">
<path class="w" d="M1150,643 L1245,660 Q1292,690 1268,722 L1215,730 L1150,717" style="stroke-width:1.5"/>
<path d="M1150,645 V716" stroke="#fff" stroke-width="2.5" vector-effect="non-scaling-stroke"/>
<path class="t" d="M1240,664 Q1225,692 1236,724"/>
<ellipse class="k" cx="140" cy="260" rx="12" ry="14" style="stroke-width:1.6"/>
<path class="k" d="M110,262 H130" style="stroke-width:1.2"/>
</g>
<!--A1END-->
<g transform="translate(640,800) scale(0.20027)"><path d="M560,555 L715,580" stroke="#000" stroke-width="1" stroke-dasharray="1.5 1.5" vector-effect="non-scaling-stroke" fill="none"/></g>
<!--CALL18-->
<path class="f" d="M755.2,918.2 L776.2,920.2 L588.2,1099.1 L570.2,1094.1 Z"/>
<path class="k" d="M570.2,1094.1 L755.2,918.2 L744.5,914.5 M588.2,1099.1 L776.2,920.2" style="stroke-width:1.5"/>
<path class="k" d="M1111.3,786.1 L850,1036.3 V1461.2 L804.5,1505.3" style="stroke-width:1.5"/>
<path class="k" d="M719.4,958.8 V966.8 M724.2,950.8 L725.6,966.8 M748.3,929.4 L746.9,940.1 M640.1,1034.9 L648.1,1036.2 M629.5,1044.2 L636.1,1045.6" style="stroke-width:1.2"/>
<path class="h" d="M620.1,1051.7 L629.5,1053.3"/>
<path class="k" d="M700,974 Q704.5,977 703,980.5" style="stroke-width:1.2"/>

<!--Z1-->
<!--END-->
</svg>
</body></html>
